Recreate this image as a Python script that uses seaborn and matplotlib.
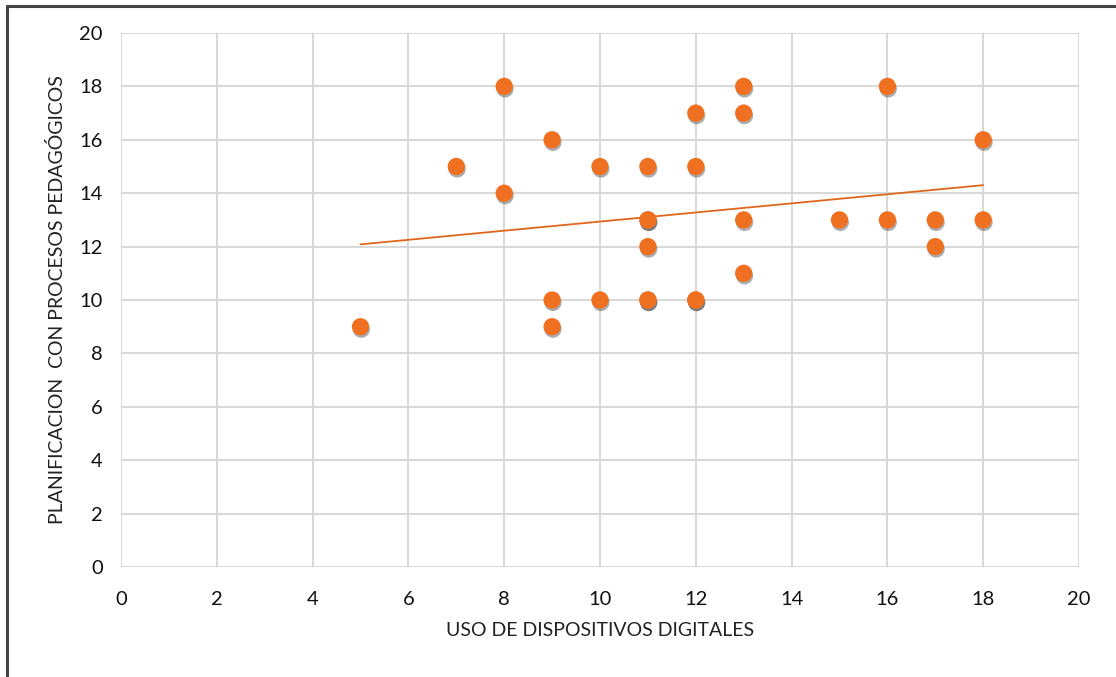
import numpy as np
import pandas as pd
import matplotlib
matplotlib.use("Agg")
import matplotlib.pyplot as plt
import matplotlib.patheffects as pe
from matplotlib.lines import Line2D
import seaborn as sns

# Survey scores per respondent
uso_dispositivos = [5, 7, 8, 8, 9, 9, 9, 10, 10, 11, 11, 11, 11, 11, 11,
                    12, 12, 12, 12, 13, 13, 13, 13, 15, 16, 16, 17, 17, 18, 18]
planificacion = [9, 15, 18, 14, 16, 10, 9, 15, 10, 15, 13, 13, 12, 10, 10,
                 17, 15, 10, 10, 18, 17, 13, 11, 13, 18, 13, 13, 12, 16, 13]

x_ticks = [0, 2, 4, 6, 8, 10, 12, 14, 16, 18, 20]
y_ticks = [0, 2, 4, 6, 8, 10, 12, 14, 16, 18, 20]
x_label = "USO DE DISPOSITIVOS DIGITALES"
y_label = "PLANIFICACION  CON PROCESOS PEDAGÓGICOS"

df = pd.DataFrame({"x": uso_dispositivos, "y": planificacion})

sns.set_style("white")
plt.rcParams["font.family"] = ["Lato", "DejaVu Sans"]

orange = "#EF7020"

fig = plt.figure(figsize=(11.16, 6.77), dpi=100)
ax = fig.add_axes([121 / 1116, 1 - 567 / 677, (1079 - 121) / 1116, (567 - 33) / 677])

sns.regplot(data=df, x="x", y="y", ax=ax, scatter=False, ci=None,
            line_kws={"color": "#E0661C", "lw": 1.3, "zorder": 2})
sns.scatterplot(data=df, x="x", y="y", ax=ax, s=155, color=orange,
                edgecolor="none", zorder=3,
                path_effects=[pe.SimplePatchShadow(offset=(0.6, -1.8), shadow_rgbFace="#333333", alpha=0.4),
                              pe.Normal()])

ax.set_xlim(0, 20)
ax.set_ylim(0, 20)
ax.set_xticks(x_ticks)
ax.set_yticks(y_ticks)
ax.grid(True, color="#d9d9d9", lw=1.5)
ax.set_axisbelow(True)
for s in ax.spines.values():
    s.set_visible(False)
ax.tick_params(axis="both", length=0, labelsize=14.5, colors="#111111")
ax.tick_params(axis="x", pad=17)
ax.tick_params(axis="y", pad=13)
ax.set_xlabel(x_label, fontsize=14, color="#222222", labelpad=10)
ax.set_ylabel(y_label, fontsize=14, color="#222222", labelpad=10)

# Frame lines along the top and left of the figure
fig.add_artist(Line2D([7 / 1116, 1], [1 - 6 / 677, 1 - 6 / 677], color="#444444", lw=2.2,
                      transform=fig.transFigure))
fig.add_artist(Line2D([7 / 1116, 7 / 1116], [0, 1 - 6 / 677], color="#444444", lw=2.2,
                      transform=fig.transFigure))

fig.savefig("out.png", dpi=100)
